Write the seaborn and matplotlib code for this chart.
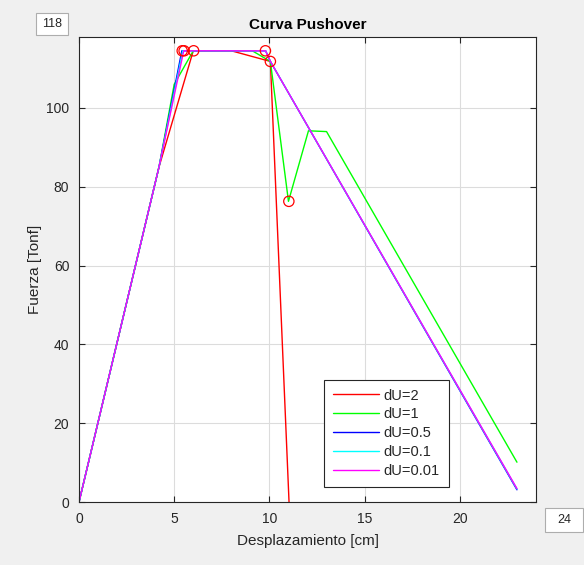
import matplotlib
matplotlib.use("Agg")
import matplotlib.pyplot as plt
from matplotlib.patches import Rectangle
import seaborn as sns
import pandas as pd

# ---- data ----
labels = ["dU=2", "dU=1", "dU=0.5", "dU=0.1", "dU=0.01"]
colors = ["#ff0000", "#00ff00", "#0000ff", "#00ffff", "#ff00ff"]

x_du2 = [0, 4.2, 6.0, 8.0, 10.05, 11.1]
y_du2 = [0, 85, 114.5, 114.5, 111.8, -8]

x_du1 = [0, 4.2, 5.0, 6.0, 9.1, 10.05, 11.0, 12.05, 13.0, 23.0]
y_du1 = [0, 85, 106, 114.5, 114.5, 111.8, 76.3, 94.2, 94.0, 10.1]

x_du05 = [0, 4.2, 5.4, 9.8, 10.05, 23.0]
y_du05 = [0, 85, 114.5, 114.5, 111.8, 3.1]

x_du01 = [0, 4.2, 5.45, 9.8, 10.05, 23.0]
y_du01 = [0, 85, 114.5, 114.5, 111.8, 3.3]

x_du001 = [0, 4.2, 5.5, 9.8, 10.05, 23.0]
y_du001 = [0, 85, 114.5, 114.5, 111.8, 3.4]

x_marks = [5.42, 5.52, 6.02, 9.79, 10.05, 11.02]
y_marks = [114.5, 114.5, 114.5, 114.5, 111.8, 76.3]

xs = [x_du2, x_du1, x_du05, x_du01, x_du001]
ys = [y_du2, y_du1, y_du05, y_du01, y_du001]

rows = []
for lab, xx, yy in zip(labels, xs, ys):
    for a, b in zip(xx, yy):
        rows.append({"serie": lab, "x": a, "y": b})
df = pd.DataFrame(rows)

sns.set_style("whitegrid")
plt.rcParams["font.family"] = ["Liberation Sans", "DejaVu Sans"]

bg = "#f0f0f0"
fig = plt.figure(figsize=(5.84, 5.65), dpi=100, facecolor=bg)
ax = fig.add_axes([0.1353, 0.1115, 0.9178 - 0.1353, 0.9345 - 0.1115])
ax.set_facecolor("white")

sns.lineplot(data=df, x="x", y="y", hue="serie", hue_order=labels,
             palette=dict(zip(labels, colors)), sort=False, estimator=None,
             linewidth=1.0, ax=ax)

ax.scatter(x_marks, y_marks, s=55, facecolors="none", edgecolors="#ff0000",
           linewidths=0.9, zorder=5)

ax.set_xlim(0, 24)
ax.set_ylim(0, 118)
ax.set_xticks([0, 5, 10, 15, 20])
ax.set_yticks([0, 20, 40, 60, 80, 100])
ax.grid(True, color="#dcdcdc", linewidth=0.8)
ax.tick_params(axis="both", direction="in", length=4, width=0.8,
               colors="#262626", labelsize=10, labelcolor="#262626",
               left=True, bottom=True, top=True, right=True)
ax.tick_params(axis="x", pad=7)
ax.tick_params(axis="y", pad=7)
for s in ax.spines.values():
    s.set_visible(True)
    s.set_color("#262626")
    s.set_linewidth(0.8)

ax.set_title("Curva Pushover", fontsize=11, fontweight="bold", color="black", pad=6)
ax.set_xlabel("Desplazamiento [cm]", fontsize=11, color="#262626", labelpad=6)
ax.set_ylabel("Fuerza [Tonf]", fontsize=11, color="#262626", labelpad=3)

leg = ax.legend(loc="lower left", bbox_to_anchor=(0.536, 0.032), fontsize=10.5,
                frameon=True, fancybox=False, handlelength=3.2,
                handletextpad=0.3, borderpad=0.6, labelspacing=0.34,
                borderaxespad=0)
leg.get_frame().set_edgecolor("#262626")
leg.get_frame().set_linewidth(0.8)
leg.get_frame().set_alpha(1)
for t in leg.get_texts():
    t.set_color("#262626")

W, H = 584.0, 565.0
def box(x0, y0, x1, y1, txt):
    fig.add_artist(Rectangle((x0 / W, 1 - y1 / H), (x1 - x0) / W, (y1 - y0) / H,
                             transform=fig.transFigure, fc="white", ec="#adadad",
                             lw=0.8))
    fig.text((x0 + x1) / 2 / W, 1 - (y0 + y1) / 2 / H, txt, ha="center",
             va="center", fontsize=9, color="#262626")

box(36, 13, 68, 35, "118")
box(545, 508, 583, 532, "24")

fig.savefig("out.png", dpi=100, facecolor=bg)
